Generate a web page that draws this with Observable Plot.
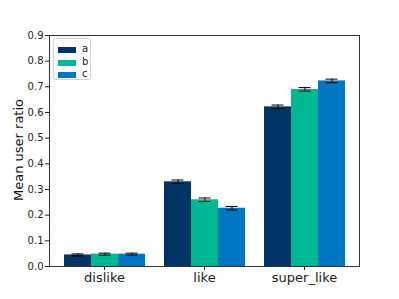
<!DOCTYPE html>
<html><head><meta charset="utf-8">
<script src="https://cdn.jsdelivr.net/npm/d3@7"></script>
<script src="https://cdn.jsdelivr.net/npm/@observablehq/plot@0.6"></script>
<style>
body{margin:0;background:#fff;font-family:"DejaVu Sans",sans-serif;}
#wrap{position:relative;width:399px;height:299px;}
#frame{position:absolute;left:49px;top:35px;width:309px;height:230px;border:1px solid #333;pointer-events:none;}
#legend{position:absolute;left:53px;top:38px;width:36px;height:40px;border:1px solid #d5d5d5;border-radius:2px;background:#fff;font-size:10px;}
#legend .it{position:absolute;left:4px;height:12px;}
#legend .sw{position:absolute;left:0;top:3px;width:18px;height:6px;}
#legend .lb{position:absolute;left:24px;top:-1px;color:#222;}
#ylabel{position:absolute;left:18px;top:150px;transform:translate(-50%,-50%) rotate(-90deg);font-size:13px;color:#111;white-space:nowrap;}
svg text{fill:#222;}
</style>
</head><body>
<div id="wrap"></div>
<script>
const categories = ["dislike", "like", "super_like"];
const series = ["a", "b", "c"];
const colors = ["#003466", "#00b894", "#0077c0"];
const valuesA = [0.045, 0.330, 0.622];
const valuesB = [0.048, 0.260, 0.690];
const valuesC = [0.048, 0.227, 0.723];
const errA = [0.004, 0.007, 0.007];
const errB = [0.004, 0.007, 0.007];
const errC = [0.004, 0.007, 0.007];
const yTicks = [0, 0.1, 0.2, 0.3, 0.4, 0.5, 0.6, 0.7, 0.8, 0.9];
const yLabel = "Mean user ratio";

const vals = [valuesA, valuesB, valuesC];
const errs = [errA, errB, errC];
const data = [];
categories.forEach((c, i) => series.forEach((s, j) => {
  data.push({category: c, series: s, value: vals[j][i], err: errs[j][i]});
}));

const W = 399, ML = 49, MR = 40, PI = 0.18, PO = 0.14;
const outerGap = (W - ML - MR) / (categories.length - PI + 2 * PO) * PO;

const chart = Plot.plot({
  width: W, height: 299,
  marginTop: 35, marginBottom: 33, marginLeft: ML, marginRight: MR,
  style: {fontFamily: "DejaVu Sans, sans-serif", fontSize: "10px", background: "#fff"},
  fx: {domain: categories, paddingInner: PI, paddingOuter: PO, axis: null},
  x: {domain: series, padding: 0, axis: null},
  y: {domain: [0, 0.9], axis: null},
  color: {domain: series, range: colors},
  facet: {data: data, x: "category"},
  marks: [
    Plot.barY(data, {x: "series", y: "value", fill: "series"}),
    Plot.ruleX(data, {x: "series", y1: d => d.value - d.err, y2: d => d.value + d.err, stroke: "#000", strokeWidth: 1}),
    Plot.tickY(data, {x: "series", y: d => d.value - d.err, stroke: "#000", strokeWidth: 1, insetLeft: 7.5, insetRight: 7.5}),
    Plot.tickY(data, {x: "series", y: d => d.value + d.err, stroke: "#000", strokeWidth: 1, insetLeft: 7.5, insetRight: 7.5}),
    Plot.axisY({ticks: yTicks, tickFormat: ".1f", tickSize: 4, tickPadding: 2, label: null, fontSize: 10, stroke: "#222", dx: -outerGap}),
    Plot.axisFx({anchor: "bottom", ticks: categories, tickSize: 4, tickPadding: 2, label: null, fontSize: 13, stroke: "#222"})
  ]
});
const wrap = document.getElementById("wrap");
wrap.appendChild(chart);
const fr = document.createElement("div"); fr.id = "frame"; wrap.appendChild(fr);
const lg = document.createElement("div"); lg.id = "legend";
series.forEach((s, j) => {
  const it = document.createElement("div"); it.className = "it"; it.style.top = (5 + j * 12.5) + "px";
  it.innerHTML = `<div class="sw" style="background:${colors[j]}"></div><div class="lb">${s}</div>`;
  lg.appendChild(it);
});
wrap.appendChild(lg);
const yl = document.createElement("div"); yl.id = "ylabel"; yl.textContent = yLabel; wrap.appendChild(yl);
</script>
</body></html>
